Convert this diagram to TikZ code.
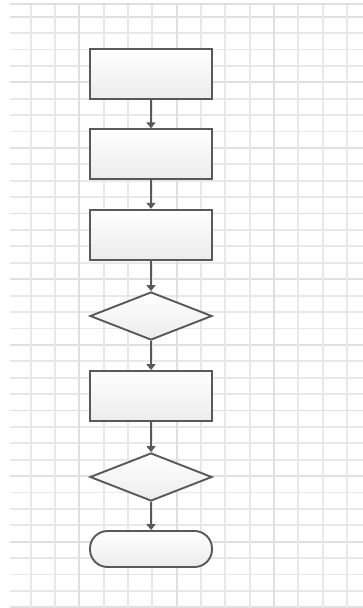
\documentclass[tikz,border=0pt]{standalone}
\usetikzlibrary{shapes.geometric,shapes.misc,arrows.meta}

\definecolor{gridminor}{HTML}{E8E8E8}
\definecolor{gridmajor}{HTML}{DFDFDF}
\definecolor{shapeline}{HTML}{595959}
\definecolor{shapefill}{HTML}{ECECEC}

\tikzset{
    flowshape/.style={draw=shapeline, line width=1.9pt, top color=white, bottom color=shapefill, inner sep=0pt},
    processbox/.style={flowshape, rectangle, minimum width=122pt, minimum height=50pt},
    decisionbox/.style={flowshape, diamond, minimum width=122pt, minimum height=48pt},
    terminalbox/.style={flowshape, rectangle, rounded corners=17.5pt, minimum width=122pt, minimum height=36pt},
    flowarrow/.style={draw=shapeline, line width=1.9pt, -{Triangle[length=6pt,width=9pt]}}
}

\begin{document}
\begin{tikzpicture}[x=1pt,y=-1pt]
        \useasboundingbox (0,0) rectangle (363,608);

        % grid
        \foreach \k in {0,...,36} {
            \pgfmathtruncatemacro{\major}{mod(\k,4)==0}
            \ifnum\major=1 \def\gc{gridmajor}\else\def\gc{gridminor}\fi
            \draw[\gc, line width=1.8pt] (10,16.7+\k*16.406) -- (363,16.7+\k*16.406);
        }
        \foreach \k in {0,...,13} {
            \pgfmathtruncatemacro{\major}{mod(\k,4)==2}
            \ifnum\major=1 \def\gc{gridmajor}\else\def\gc{gridminor}\fi
            \draw[\gc, line width=1.8pt] (30.7+\k*24.33,4) -- (30.7+\k*24.33,608);
        }
        \draw[gridmajor, line width=1.8pt] (10,4) -- (363,4);

        % flow
        \node[processbox] (start) at (151,73.8) {};
        \node[processbox] (stepone) at (151,154.3) {};
        \node[processbox] (steptwo) at (151,234.7) {};
        \node[decisionbox] (checkone) at (151,316) {};
        \node[processbox] (stepthree) at (151,396) {};
        \node[decisionbox] (checktwo) at (151,477) {};
        \node[terminalbox] (finish) at (151,549) {};

        \draw[flowarrow] (start) -- (stepone);
        \draw[flowarrow] (stepone) -- (steptwo);
        \draw[flowarrow] (steptwo) -- (checkone);
        \draw[flowarrow] (checkone) -- (stepthree);
        \draw[flowarrow] (stepthree) -- (checktwo);
        \draw[flowarrow] (checktwo) -- (finish);
\end{tikzpicture}
\end{document}
